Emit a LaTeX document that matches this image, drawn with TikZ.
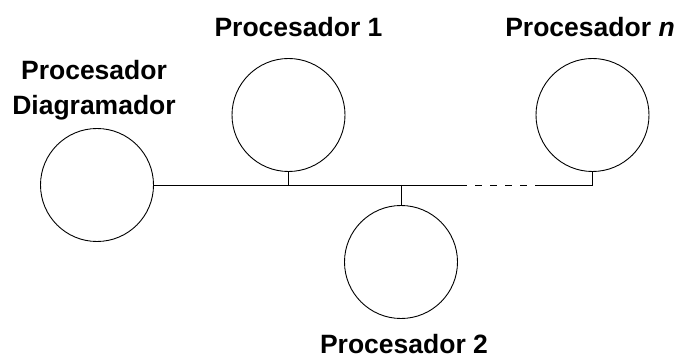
\documentclass[tikz,border=0pt]{standalone}
\usepackage{fontspec}
\setmainfont{Liberation Sans}
\begin{document}
\begin{tikzpicture}[x=1pt,y=-1pt,
  proc/.style={draw,circle,minimum size=113pt,inner sep=0pt,line width=0.9pt},
  lbl/.style={anchor=base,inner sep=0pt,font=\fontsize{26.5}{30}\selectfont\bfseries},
  bus/.style={line width=0.9pt}]
\useasboundingbox (0,0) rectangle (677,358);
\node[proc] (pd) at (97,185) {};
\node[proc] (p1) at (288.5,115) {};
\node[proc] (p2) at (401,262) {};
\node[proc] (pn) at (592.5,115) {};
\node[lbl] (lda) at (94,80) {Procesador};
\node[lbl] (ldb) at (94,115) {Diagramador};
\node[lbl] (l1) at (298.5,37) {Procesador 1};
\node[lbl] (ln) at (590,37) {Procesador \textit{n}};
\node[lbl] (l2) at (404,353) {Procesador 2};
\coordinate (j1) at (288.5,185);
\coordinate (j2) at (401,185);
\coordinate (jn) at (592.5,185);
\coordinate (d1) at (467,185);
\coordinate (d2) at (536,185);
\draw[bus] (pd.east) -- (d1);
\draw[bus,dash pattern=on 7pt off 8pt,dash phase=7pt] (d1) -- (d2);
\draw[bus] (d2) -- (jn) -- (pn.south);
\draw[bus] (j1) -- (p1.south);
\draw[bus] (j2) -- (p2.north);
\end{tikzpicture}
\end{document}
